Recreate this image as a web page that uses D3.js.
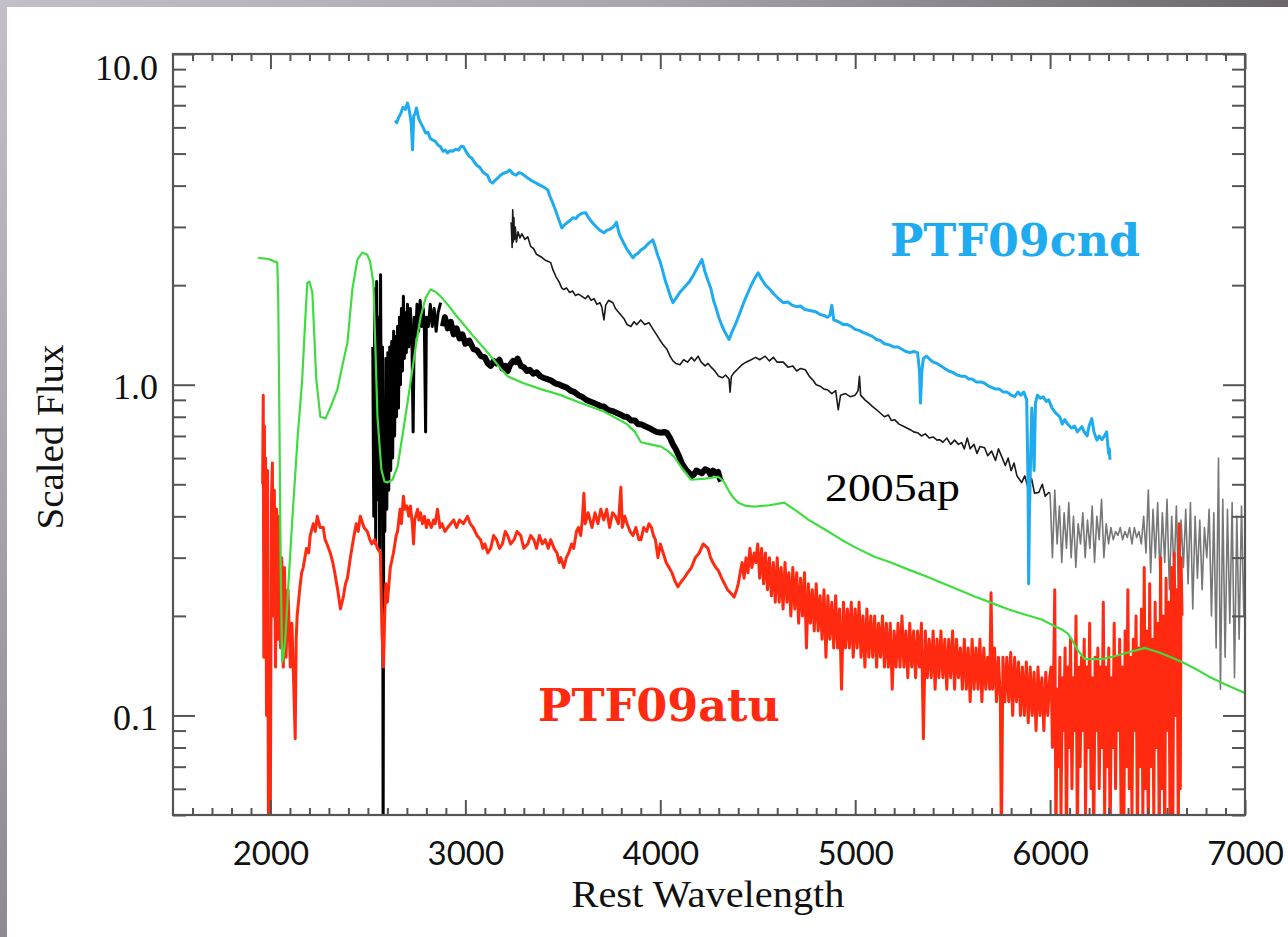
<!DOCTYPE html>
<html><head><meta charset="utf-8">
<script src="https://cdn.jsdelivr.net/npm/d3@7"></script>
<style>body{margin:0;background:#fff}svg{display:block}</style>
</head><body><svg id="c" width="1288" height="937"></svg>
<script>
// ---------- DATA (wavelength in Å, scaled flux) ----------
const ptf09cnd = [
[2640,6.3],[2648,6.2],[2657,6.41],[2668,6.6],[2680,6.9],[2692,6.8],[2703,7.11],[2709,6.9],[2715,6.6],[2722,6.2],[2729,5.13],[2735,6.5],[2742,6.6],[2749,6.87],[2760,6.4],[2770,6.2],[2783,6.0],[2796,5.77],[2808,5.8],[2820,5.55],[2830,5.5],[2845,5.45],[2860,5.3],[2872,5.25],[2885,5.08],[2897,5.12],[2909,5.02],[2922,5.1],[2935,5.08],[2950,5.15],[2965,5.12],[2978,5.26],[2991,5.24],[3005,5.05],[3020,4.9],[3033,4.85],[3047,4.7],[3060,4.6],[3073,4.55],[3087,4.42],[3100,4.35],[3113,4.3],[3127,4.12],[3140,4.07],[3153,4.15],[3167,4.22],[3180,4.3],[3195,4.36],[3210,4.38],[3227,4.46],[3243,4.35],[3260,4.3],[3275,4.38],[3290,4.35],[3305,4.28],[3320,4.22],[3337,4.15],[3353,4.1],[3370,4.05],[3387,4.0],[3405,3.95],[3423,3.88],[3435,3.7],[3448,3.55],[3460,3.4],[3472,3.25],[3484,3.1],[3495,2.98],[3510,3.05],[3525,3.1],[3540,3.15],[3553,3.2],[3567,3.18],[3580,3.25],[3598,3.3],[3618,3.31],[3632,3.2],[3646,3.12],[3660,3.05],[3677,2.98],[3694,2.92],[3711,2.88],[3725,2.93],[3740,2.95],[3753,2.98],[3767,3.04],[3775,3.1],[3790,2.85],[3810,2.7],[3827,2.58],[3843,2.5],[3860,2.42],[3873,2.47],[3887,2.5],[3900,2.55],[3920,2.6],[3941,2.68],[3962,2.74],[3975,2.6],[3988,2.45],[4000,2.35],[4013,2.2],[4027,2.05],[4040,1.95],[4052,1.85],[4065,1.77],[4082,1.83],[4100,1.9],[4117,1.95],[4133,2.0],[4150,2.05],[4171,2.15],[4192,2.27],[4214,2.39],[4229,2.2],[4244,2.07],[4260,1.95],[4273,1.8],[4287,1.7],[4300,1.6],[4318,1.5],[4335,1.43],[4353,1.37],[4369,1.45],[4385,1.52],[4400,1.6],[4417,1.7],[4433,1.8],[4450,1.9],[4467,2.0],[4485,2.1],[4502,2.18],[4521,2.08],[4540,2.0],[4560,1.95],[4583,1.88],[4607,1.82],[4631,1.77],[4654,1.78],[4677,1.74],[4700,1.72],[4720,1.73],[4740,1.69],[4760,1.68],[4780,1.67],[4800,1.66],[4820,1.63],[4840,1.62],[4857,1.60],[4870,1.62],[4880,1.74],[4890,1.57],[4915,1.55],[4940,1.52],[4960,1.52],[4980,1.5],[5000,1.47],[5020,1.46],[5040,1.44],[5064,1.42],[5088,1.40],[5110,1.37],[5130,1.36],[5150,1.33],[5175,1.32],[5200,1.30],[5220,1.3],[5240,1.28],[5260,1.26],[5280,1.25],[5300,1.26],[5320,1.25],[5330,1.1],[5335,0.88],[5342,1.1],[5350,1.2],[5366,1.22],[5385,1.19],[5400,1.17],[5420,1.16],[5440,1.14],[5460,1.12],[5480,1.10],[5500,1.09],[5523,1.07],[5546,1.06],[5565,1.06],[5583,1.04],[5600,1.04],[5620,1.02],[5643,1.02],[5664,1.01],[5685,0.99],[5703,0.98],[5720,0.97],[5740,0.97],[5760,0.95],[5780,0.95],[5800,0.93],[5818,0.92],[5835,0.95],[5850,0.93],[5865,0.95],[5880,0.9],[5887,0.5],[5890,0.25],[5894,0.4],[5900,0.6],[5906,0.85],[5912,0.7],[5918,0.55],[5925,0.88],[5935,0.93],[5950,0.91],[5965,0.92],[5980,0.89],[5993,0.90],[6010,0.85],[6030,0.82],[6050,0.8],[6062,0.76],[6075,0.784],[6090,0.76],[6110,0.74],[6125,0.75],[6140,0.72],[6163,0.747],[6175,0.72],[6190,0.70],[6200,0.75],[6214,0.79],[6225,0.72],[6240,0.68],[6252,0.70],[6266,0.682],[6278,0.7],[6290,0.72],[6296,0.66],[6300,0.62],[6304,0.64],[6307,0.593]
];

const sn2005ap = [
[3235,3.1],[3240,2.6],[3243,3.38],[3246,2.7],[3249,3.2],[3252,2.75],[3256,3.0],[3262,2.7],[3270,2.9],[3280,2.78],
[3290,2.86],[3305,2.75],[3320,2.80],[3335,2.62],[3350,2.58],[3365,2.48],[3380,2.45],[3395,2.42],[3410,2.38],[3425,2.36],
[3438,2.34],[3450,2.22],[3465,2.12],[3480,2.05],[3495,1.96],[3505,1.94],[3520,1.96],[3535,1.90],[3550,1.92],[3565,1.86],
[3580,1.88],[3598,1.85],[3615,1.82],[3630,1.86],[3645,1.80],[3660,1.82],[3675,1.75],[3690,1.77],[3700,1.72],[3711,1.57],
[3720,1.74],[3735,1.80],[3757,1.77],[3770,1.70],[3785,1.66],[3800,1.62],[3815,1.58],[3830,1.52],[3849,1.50],[3865,1.55],
[3880,1.52],[3900,1.57],[3920,1.52],[3942,1.54],[3960,1.48],[3980,1.42],[4000,1.36],[4015,1.32],[4034,1.28],[4050,1.22],
[4065,1.18],[4080,1.16],[4101,1.15],[4120,1.19],[4140,1.17],[4160,1.21],[4175,1.18],[4194,1.22],[4210,1.17],[4230,1.14],
[4245,1.16],[4261,1.13],[4280,1.10],[4300,1.06],[4320,1.05],[4335,1.07],[4353,1.04],[4358,0.95],[4365,1.06],[4380,1.09],
[4400,1.12],[4420,1.15],[4440,1.17],[4466,1.19],[4490,1.21],[4510,1.19],[4538,1.22],[4560,1.18],[4580,1.21],[4600,1.17],
[4631,1.17],[4655,1.13],[4680,1.14],[4700,1.10],[4720,1.12],[4744,1.11],[4765,1.06],[4785,1.03],[4800,1.0],[4820,0.99],
[4840,0.97],[4857,0.966],[4880,0.94],[4900,0.96],[4913,0.84],[4925,0.93],[4950,0.94],[4975,0.92],[5000,0.93],[5015,0.96],
[5022,1.06],[5028,0.93],[5050,0.90],[5070,0.88],[5088,0.86],[5110,0.84],[5130,0.82],[5150,0.80],[5170,0.81],[5185,0.78],
[5202,0.784],[5225,0.76],[5245,0.75],[5265,0.74],[5285,0.73],[5300,0.72],[5320,0.716],[5340,0.70],[5360,0.71],[5380,0.69],
[5400,0.695],[5420,0.68],[5433,0.682],[5450,0.67],[5470,0.69],[5490,0.66],[5510,0.68],[5530,0.66],[5546,0.668],[5560,0.64],
[5575,0.69],[5590,0.64],[5610,0.66],[5625,0.62],[5640,0.65],[5664,0.645],[5680,0.61],[5700,0.63],[5720,0.59],[5735,0.64],
[5752,0.606],[5770,0.57],[5785,0.60],[5800,0.55],[5815,0.58],[5830,0.53],[5854,0.506],[5870,0.53],[5890,0.48],[5905,0.52],
[5920,0.47],[5942,0.472],[5960,0.50],[5975,0.46],[5993,0.472],
[6000,0.47],[6012,0.30],[6024,0.48],[6036,0.33],[6048,0.43],[6060,0.29],[6072,0.41],[6084,0.32],[6096,0.44],[6108,0.30],
[6120,0.40],[6132,0.28],[6144,0.38],[6156,0.33],[6168,0.41],[6180,0.30],[6192,0.39],[6204,0.32],[6216,0.43],[6228,0.29],
[6240,0.40],[6252,0.34],[6264,0.45],[6276,0.30],[6288,0.38],[6300,0.33],[6312,0.37],[6324,0.34],[6336,0.36],[6348,0.35],
[6360,0.37],[6372,0.34],[6384,0.36],[6396,0.345],[6408,0.37],[6420,0.33],[6432,0.37],[6444,0.345],[6456,0.36],[6468,0.33],
[6480,0.40],[6492,0.31],[6504,0.48],[6516,0.27],[6528,0.42],[6540,0.30],[6552,0.44],[6564,0.26],[6576,0.41],[6588,0.29],
[6600,0.45],[6612,0.24],[6624,0.40],[6636,0.27],[6648,0.43],[6660,0.22],[6672,0.39],[6684,0.28],[6696,0.42],[6708,0.25],
[6720,0.44],[6732,0.21],[6744,0.40],[6756,0.26],[6768,0.39],[6780,0.24],[6792,0.37],[6804,0.30],[6816,0.42],[6828,0.20],
[6840,0.41],[6852,0.16],[6864,0.60],[6874,0.12],[6886,0.45],[6898,0.15],[6910,0.42],[6922,0.19],[6934,0.44],[6946,0.13],
[6958,0.40],[6970,0.17],[6982,0.43],[6994,0.20],[7005,0.40]
];
const noisyStart = 6000; // 2005ap red end drawn as grey

const blackSpec = [
[2525,1.3],[2530,0.40],[2535,1.95],[2540,0.33],[2545,2.05],[2550,0.45],[2555,1.6],[2560,0.32],[2565,2.15],[2570,0.40],
[2575,1.3],[2578,0.04],[2582,0.9],[2587,0.36],[2592,1.2],[2597,0.42],[2602,1.25],[2607,0.48],[2612,1.3],[2617,0.55],
[2622,1.35],[2627,0.6],[2632,1.45],[2637,0.7],[2642,1.4],[2647,0.8],[2652,1.5],[2657,0.85],[2662,1.6],[2667,1.0],
[2672,1.7],[2677,1.1],[2682,1.85],[2687,1.2],[2692,1.65],[2697,1.25],[2703,1.75],[2710,1.3],[2718,1.7],[2726,1.35],
[2732,0.72],[2738,1.6],[2745,1.4],[2752,1.75],[2760,1.45],[2768,1.8],[2776,1.5],[2784,1.7],[2790,1.45],[2796,0.72],
[2800,1.6],[2810,1.5],[2820,1.75],[2830,1.5],[2840,1.7],[2850,1.45],[2860,1.65],[2873,1.77],[2885,1.5],[2895,1.6],
[2910,1.48],[2925,1.55],[2940,1.42],[2955,1.48],[2970,1.38],[2985,1.42],[3000,1.33],[3020,1.36],[3042,1.28],[3060,1.27],
[3080,1.22],[3100,1.21],[3115,1.16],[3130,1.14],[3145,1.18],[3160,1.16],[3175,1.19],[3190,1.12],[3205,1.14],[3217,1.10],
[3230,1.15],[3245,1.18],[3258,1.17],[3268,1.20],[3285,1.14],[3300,1.13],[3315,1.10],[3330,1.11],[3348,1.08],[3366,1.09],
[3385,1.06],[3400,1.05],[3420,1.04],[3440,1.03],[3460,1.01],[3484,1.00],[3500,0.99],[3520,0.98],[3540,0.96],[3560,0.95],
[3580,0.93],[3598,0.92],[3620,0.90],[3640,0.89],[3660,0.88],[3680,0.87],[3695,0.86],[3711,0.86],[3730,0.84],[3760,0.83],
[3780,0.82],[3800,0.81],[3815,0.80],[3829,0.80],[3850,0.78],[3870,0.78],[3885,0.76],[3900,0.76],[3920,0.75],[3942,0.74],
[3960,0.73],[3980,0.72],[4004,0.716],[4020,0.72],[4034,0.715],[4050,0.69],[4065,0.66],[4081,0.636],[4095,0.61],[4110,0.58],
[4122,0.565],[4135,0.55],[4150,0.54],[4162,0.53],[4173,0.535],[4185,0.55],[4200,0.545],[4214,0.54],[4230,0.555],[4245,0.55],
[4258,0.535],[4270,0.55],[4285,0.54],[4297,0.545],[4306,0.52],[4312,0.51]
];
const thickFrom = 2880; // dense part of the black spectrum

const model = [
[1937,2.42],[1990,2.40],[2035,2.34],[2040,1.81],[2045,0.90],[2052,0.30],[2060,0.145],[2066,0.150],[2076,0.170],[2094,0.26],
[2112,0.391],[2140,0.70],[2163,1.04],[2178,1.55],[2189,2.03],[2200,2.05],[2215,1.90],[2235,1.04],[2256,0.80],[2282,0.79],
[2310,0.86],[2343,0.966],[2370,1.15],[2395,1.34],[2420,1.94],[2446,2.39],[2471,2.51],[2497,2.47],[2512,2.35],[2528,2.03],
[2540,1.2],[2549,0.80],[2569,0.554],[2585,0.51],[2600,0.506],[2626,0.516],[2652,0.565],[2682,0.731],[2718,1.01],[2745,1.3],
[2770,1.60],[2796,1.83],[2821,1.94],[2847,1.91],[2873,1.85],[2915,1.73],[2960,1.60],[3000,1.50],[3042,1.40],[3095,1.29],
[3145,1.19],[3180,1.12],[3217,1.06],[3299,1.01],[3387,0.97],[3490,0.93],[3592,0.88],[3711,0.83],[3829,0.76],[3870,0.72],
[3901,0.67],[3950,0.66],[4004,0.65],[4040,0.63],[4071,0.606],[4110,0.56],[4158,0.516],[4230,0.52],[4297,0.527],[4325,0.51],
[4348,0.482],[4375,0.455],[4400,0.440],[4440,0.43],[4482,0.428],[4560,0.432],[4636,0.440],[4700,0.415],[4759,0.391],[4845,0.365],
[4929,0.340],[5010,0.32],[5099,0.302],[5190,0.289],[5274,0.276],[5360,0.264],[5443,0.252],[5530,0.240],[5613,0.229],[5700,0.219],
[5788,0.209],[5870,0.202],[5957,0.195],[6024,0.186],[6060,0.182],[6090,0.177],[6111,0.170],[6140,0.158],[6178,0.148],[6220,0.148],
[6266,0.148],[6330,0.151],[6400,0.155],[6487,0.160],[6560,0.155],[6620,0.150],[6677,0.145],[6750,0.138],[6816,0.131],[6900,0.124],
[6985,0.118],[7000,0.117]
];

const ptf09atu = [
[1960,0.5],[1963,0.93],[1966,0.15],[1969,0.75],[1972,0.25],[1975,0.6],[1980,0.1],[1985,0.55],[1990,0.04],[1999,0.04],
[2005,0.45],[2010,0.58],[2014,0.2],[2020,0.48],[2026,0.14],[2032,0.42],[2040,0.17],[2046,0.40],[2052,0.16],[2058,0.30],
[2066,0.14],[2072,0.28],[2080,0.15],[2090,0.24],[2102,0.14],[2110,0.19],[2120,0.12],[2127,0.085],[2132,0.17],[2137,0.20],
[2150,0.24],[2160,0.27],[2168,0.28],[2185,0.32],[2196,0.31],[2204,0.35],[2220,0.38],[2230,0.36],[2240,0.40],[2255,0.37],
[2271,0.37],[2280,0.34],[2290,0.33],[2307,0.31],[2320,0.29],[2330,0.27],[2345,0.24],[2359,0.21],[2375,0.23],[2385,0.25],
[2395,0.26],[2410,0.30],[2425,0.34],[2440,0.38],[2450,0.36],[2461,0.40],[2480,0.37],[2497,0.36],[2510,0.34],[2520,0.33],
[2535,0.34],[2549,0.32],[2564,0.31],[2572,0.18],[2580,0.14],[2586,0.2],[2592,0.25],[2600,0.22],[2615,0.28],[2631,0.31],
[2645,0.35],[2652,0.36],[2665,0.42],[2672,0.38],[2682,0.46],[2690,0.42],[2700,0.43],[2710,0.40],[2718,0.43],[2728,0.38],
[2734,0.33],[2740,0.39],[2755,0.42],[2762,0.39],[2770,0.41],[2780,0.38],[2790,0.40],[2800,0.37],[2810,0.39],[2825,0.37],
[2837,0.39],[2845,0.38],[2857,0.42],[2870,0.37],[2880,0.38],[2895,0.36],[2909,0.37],[2925,0.38],[2940,0.39],[2955,0.37],
[2970,0.39],[2990,0.38],[3011,0.40],[3025,0.38],[3040,0.37],[3060,0.35],[3078,0.34],[3090,0.32],[3100,0.33],[3115,0.31],
[3130,0.32],[3145,0.35],[3160,0.34],[3175,0.32],[3190,0.33],[3205,0.36],[3217,0.35],[3232,0.33],[3250,0.34],[3265,0.36],
[3284,0.35],[3300,0.32],[3320,0.33],[3335,0.35],[3351,0.34],[3365,0.32],[3380,0.35],[3395,0.33],[3410,0.34],[3425,0.32],
[3438,0.34],[3455,0.32],[3470,0.31],[3482,0.29],[3490,0.30],[3505,0.28],[3518,0.30],[3530,0.31],[3545,0.33],[3556,0.32],
[3570,0.36],[3580,0.37],[3592,0.35],[3600,0.39],[3608,0.47],[3615,0.38],[3630,0.41],[3650,0.37],[3665,0.41],[3680,0.38],
[3695,0.42],[3710,0.39],[3725,0.42],[3740,0.37],[3755,0.41],[3770,0.40],[3785,0.38],[3798,0.49],[3805,0.37],[3818,0.40],
[3830,0.38],[3845,0.36],[3860,0.35],[3875,0.37],[3890,0.34],[3901,0.34],[3915,0.37],[3930,0.36],[3942,0.38],[3955,0.37],
[3965,0.35],[3975,0.34],[3988,0.30],[4000,0.33],[4015,0.31],[4030,0.29],[4045,0.28],[4060,0.27],[4075,0.255],[4091,0.245],
[4100,0.25],[4110,0.255],[4122,0.26],[4140,0.27],[4160,0.28],[4180,0.30],[4200,0.31],[4220,0.33],[4245,0.32],[4258,0.30],
[4270,0.29],[4285,0.28],[4297,0.275],[4315,0.26],[4330,0.25],[4345,0.24],[4360,0.235],[4379,0.228],[4392,0.24],
[4400,0.25],[4410,0.27],[4420,0.29],[4430,0.26],[4440,0.30],[4450,0.27],[4460,0.32],[4470,0.28],[4482,0.31],[4490,0.29],
[4500,0.33],[4510,0.26],[4520,0.32],[4530,0.25],[4540,0.31],[4550,0.24],[4560,0.30],[4570,0.23],[4580,0.29],[4590,0.22],
[4600,0.30],[4610,0.22],[4620,0.28],[4630,0.21],[4640,0.29],[4650,0.22],[4660,0.27],[4670,0.20],[4680,0.28],[4690,0.21],
[4700,0.27],[4710,0.19],[4720,0.26],[4730,0.20],[4740,0.27],[4750,0.16],[4760,0.25],[4770,0.19],[4780,0.24],[4790,0.18],
[4800,0.25],[4810,0.18],[4820,0.23],[4830,0.17],[4840,0.24],[4850,0.15],[4860,0.23],[4870,0.17],[4880,0.22],[4890,0.16],
[4900,0.23],[4910,0.16],[4920,0.21],[4930,0.12],[4940,0.22],[4950,0.16],[4960,0.21],[4970,0.16],[4980,0.22],[4990,0.15],
[5000,0.21],[5010,0.16],[5020,0.22],[5030,0.15],[5040,0.20],[5050,0.14],[5060,0.21],[5070,0.15],[5080,0.20],[5090,0.15],
[5100,0.20],[5110,0.14],[5120,0.19],[5130,0.15],[5140,0.20],[5150,0.14],[5160,0.19],[5170,0.14],[5180,0.19],[5190,0.12],
[5200,0.18],[5210,0.14],[5220,0.19],[5230,0.14],[5240,0.20],[5250,0.14],[5260,0.18],[5270,0.13],[5280,0.19],[5290,0.14],
[5300,0.18],[5310,0.13],[5320,0.18],[5330,0.14],[5340,0.19],[5350,0.085],[5360,0.18],[5370,0.13],[5380,0.17],[5390,0.13],
[5400,0.18],[5410,0.12],[5420,0.17],[5430,0.13],[5440,0.18],[5450,0.13],[5460,0.17],[5470,0.12],[5480,0.17],[5490,0.13],
[5500,0.18],[5510,0.12],[5520,0.17],[5530,0.13],[5540,0.16],[5550,0.12],[5560,0.17],[5570,0.12],[5580,0.16],[5590,0.11],
[5600,0.17],[5610,0.12],[5620,0.16],[5630,0.12],[5640,0.17],[5650,0.11],[5660,0.16],[5670,0.12],[5680,0.15],[5690,0.12],
[5697,0.235],[5705,0.12],[5715,0.16],[5725,0.11],[5735,0.15],[5745,0.11],[5750,0.04],[5758,0.15],[5768,0.11],[5778,0.15],
[5788,0.11],[5798,0.155],[5808,0.10],[5818,0.15],[5828,0.11],[5838,0.145],[5848,0.10],[5858,0.14],[5868,0.10],[5878,0.145],
[5888,0.095],[5898,0.14],[5908,0.10],[5918,0.135],[5928,0.09],[5938,0.14],[5948,0.10],[5958,0.13],[5968,0.09],[5978,0.135],
[5988,0.10],[5998,0.13],
[6005,0.14],[6012,0.08],[6018,0.13],[6024,0.24],[6030,0.04],[6036,0.12],[6043,0.07],[6050,0.15],[6056,0.05],[6063,0.13],
[6070,0.09],[6077,0.16],[6084,0.04],[6091,0.14],[6098,0.08],[6105,0.17],[6112,0.06],[6119,0.13],[6126,0.09],[6133,0.2],
[6140,0.04],[6147,0.14],[6154,0.07],[6161,0.15],[6168,0.09],[6175,0.17],[6182,0.05],[6189,0.14],[6196,0.08],[6203,0.19],
[6210,0.06],[6217,0.13],[6224,0.04],[6231,0.15],[6238,0.09],[6245,0.16],[6252,0.06],[6259,0.14],[6266,0.08],[6273,0.22],
[6280,0.05],[6287,0.14],[6294,0.07],[6301,0.16],[6308,0.04],[6315,0.13],[6322,0.08],[6329,0.19],[6336,0.06],[6343,0.15],
[6350,0.09],[6357,0.17],[6364,0.05],[6371,0.14],[6378,0.04],[6385,0.18],[6392,0.07],[6399,0.24],[6406,0.06],[6413,0.15],
[6420,0.05],[6427,0.17],[6434,0.09],[6441,0.2],[6448,0.04],[6455,0.16],[6462,0.07],[6469,0.21],[6476,0.05],[6483,0.28],
[6490,0.06],[6497,0.18],[6504,0.04],[6511,0.25],[6518,0.07],[6525,0.17],[6532,0.05],[6539,0.22],[6546,0.08],[6553,0.19],
[6560,0.04],[6567,0.3],[6574,0.06],[6581,0.2],[6588,0.04],[6595,0.26],[6602,0.09],[6609,0.22],[6616,0.04],[6623,0.28],
[6630,0.05],[6637,0.31],[6644,0.1],[6651,0.24],[6658,0.04],[6662,0.38],[6668,0.06],[6672,0.3],[6677,0.2]
];

const xMajorTicks = [2000, 3000, 4000, 5000, 6000, 7000];
const yMajorTicks = [0.1, 1, 10];
const yTickLabels = ["0.1", "1.0", "10.0"];
const xDomain = [1500, 7000];
const yDomain = [0.05, 10];

// ---------- DRAWING ----------
const W = 1288, H = 937;
const L = 173, R = 1245, T = 54, B = 815;
const svg = d3.select('#c');
const defs = svg.append('defs');

const gTop = defs.append('linearGradient').attr('id','gTop').attr('x1',0).attr('x2',1).attr('y1',0).attr('y2',0);
gTop.append('stop').attr('offset','0').attr('stop-color','#c3bfc8');
gTop.append('stop').attr('offset','0.5').attr('stop-color','#aaa6ae');
gTop.append('stop').attr('offset','1').attr('stop-color','#6c666c');
const gLeft = defs.append('linearGradient').attr('id','gLeft').attr('x1',0).attr('x2',0).attr('y1',0).attr('y2',1);
gLeft.append('stop').attr('offset','0').attr('stop-color','#c3bfc8');
gLeft.append('stop').attr('offset','1').attr('stop-color','#8e8a92');

svg.append('rect').attr('width',W).attr('height',H).attr('fill','#fff');
svg.append('rect').attr('x',0).attr('y',0).attr('width',W).attr('height',7).attr('fill','url(#gTop)');
svg.append('rect').attr('x',0).attr('y',0).attr('width',7).attr('height',H).attr('fill','url(#gLeft)');

defs.append('clipPath').attr('id','plotClip').append('rect')
  .attr('x',L).attr('y',T).attr('width',R-L).attr('height',B-T);

const x = d3.scaleLinear().domain(xDomain).range([L, R]);
const y = d3.scaleLog().domain(yDomain).range([B, T]);

const line = d3.line().x(d => x(d[0])).y(d => y(Math.max(d[1], 0.03)));
const plot = svg.append('g').attr('clip-path','url(#plotClip)');

function draw(data, color, width, op) {
  plot.append('path').datum(data).attr('d', line)
    .attr('fill','none').attr('stroke',color).attr('stroke-width',width)
    .attr('stroke-linejoin','round').attr('stroke-opacity', op || 1);
}
draw(sn2005ap.filter(d => d[0] <= noisyStart), '#1a1a1a', 1.6);
draw(sn2005ap.filter(d => d[0] >= noisyStart), '#777', 1.6);
draw(blackSpec.filter(d => d[0] <= thickFrom), '#000', 3);
draw(blackSpec.filter(d => d[0] >= thickFrom), '#000', 6);
draw(ptf09atu, '#ff2a10', 3);
draw(model, '#3fdc3f', 2.2);
draw(ptf09cnd, '#1eabef', 3);

// ---------- AXES ----------
const axisColor = '#555';
const xMinor = d3.range(1600, 7000, 100).filter(v => v % 1000 !== 0);
const yMinor = [];
[0.01, 0.1, 1].forEach(dec => { for (let k = 2; k <= 9; k++) { const v = +(k*dec).toPrecision(3); if (v >= 0.05 && v <= 10) yMinor.push(v); } });

function styleAxis(g) {
  g.select('.domain').remove();
  g.selectAll('line').attr('stroke', axisColor).attr('stroke-width', 2);
}
// bottom
svg.append('g').attr('transform',`translate(0,${B})`)
  .call(d3.axisBottom(x).tickValues(xMinor).tickSize(-7).tickFormat('')).call(styleAxis);
const xb = svg.append('g').attr('transform',`translate(0,${B})`)
  .call(d3.axisBottom(x).tickValues(xMajorTicks).tickSize(-15).tickPadding(27).tickFormat(d3.format('d'))).call(styleAxis);
xb.selectAll('text').attr('font-family','Lato, "Open Sans", sans-serif').attr('font-size',33).attr('fill','#111');
// top
svg.append('g').attr('transform',`translate(0,${T})`)
  .call(d3.axisTop(x).tickValues(xMinor).tickSize(-7).tickFormat('')).call(styleAxis);
svg.append('g').attr('transform',`translate(0,${T})`)
  .call(d3.axisTop(x).tickValues(xMajorTicks).tickSize(-15).tickFormat('')).call(styleAxis);
// left
svg.append('g').attr('transform',`translate(${L},0)`)
  .call(d3.axisLeft(y).tickValues(yMinor).tickSize(-13).tickFormat('')).call(styleAxis);
const yl = svg.append('g').attr('transform',`translate(${L},0)`)
  .call(d3.axisLeft(y).tickValues(yMajorTicks).tickSize(-22).tickPadding(15)
    .tickFormat((d,i) => yTickLabels[i])).call(styleAxis);
yl.selectAll('text').attr('font-family','"Liberation Serif", "Times New Roman", serif').attr('font-size',36)
  .attr('fill','#111').attr('dy', (d) => d >= 10 ? '0.72em' : '0.38em');
// right
svg.append('g').attr('transform',`translate(${R},0)`)
  .call(d3.axisRight(y).tickValues(yMinor).tickSize(-13).tickFormat('')).call(styleAxis);
svg.append('g').attr('transform',`translate(${R},0)`)
  .call(d3.axisRight(y).tickValues(yMajorTicks).tickSize(-22).tickFormat('')).call(styleAxis);
// frame
svg.append('rect').attr('x',L).attr('y',T).attr('width',R-L).attr('height',B-T)
  .attr('fill','none').attr('stroke',axisColor).attr('stroke-width',2.2);

// ---------- TEXT ----------
svg.append('text').text('Rest Wavelength')
  .attr('x', 708).attr('y', 907).attr('text-anchor','middle')
  .attr('font-family','"Liberation Serif", serif').attr('font-size',38).attr('fill','#111')
  .attr('textLength',273).attr('lengthAdjust','spacingAndGlyphs');
svg.append('text').text('Scaled Flux')
  .attr('transform','translate(63,437) rotate(-90)').attr('text-anchor','middle')
  .attr('font-family','"Liberation Serif", serif').attr('font-size',38).attr('fill','#111')
  .attr('textLength',185).attr('lengthAdjust','spacingAndGlyphs');
svg.append('text').text('2005ap')
  .attr('x', 825).attr('y', 501)
  .attr('font-family','"Liberation Serif", serif').attr('font-size',39).attr('fill','#000')
  .attr('textLength',135).attr('lengthAdjust','spacingAndGlyphs');
svg.append('text').text('PTF09cnd')
  .attr('x', 890).attr('y', 256)
  .attr('font-family','"DejaVu Serif", serif').attr('font-weight','bold').attr('font-size',45).attr('fill','#1eabef')
  .attr('textLength',250).attr('lengthAdjust','spacingAndGlyphs');
svg.append('text').text('PTF09atu')
  .attr('x', 538).attr('y', 721)
  .attr('font-family','"DejaVu Serif", serif').attr('font-weight','bold').attr('font-size',45).attr('fill','#ff2a10')
  .attr('textLength',242).attr('lengthAdjust','spacingAndGlyphs');
</script>
</body></html>
